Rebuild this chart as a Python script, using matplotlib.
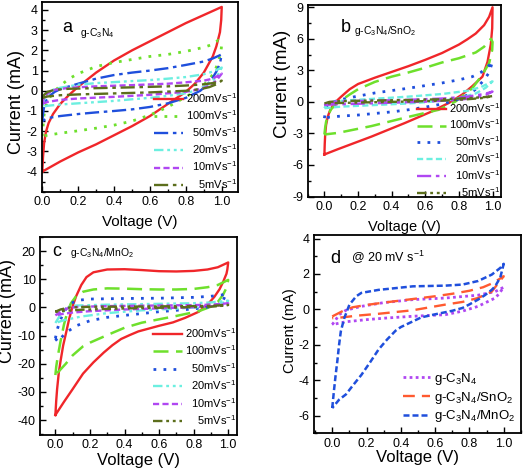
import matplotlib
matplotlib.use("Agg")
import matplotlib.pyplot as plt
from matplotlib.ticker import MultipleLocator, FixedLocator

plt.rcParams['font.family'] = ['Liberation Sans', 'DejaVu Sans']
plt.rcParams['mathtext.fontset'] = 'custom'
plt.rcParams['mathtext.rm'] = 'Liberation Sans'
plt.rcParams['mathtext.it'] = 'Liberation Sans'
plt.rcParams['mathtext.bf'] = 'Liberation Sans:bold'

# ---------------- data (voltage V, current mA), closed CV loops ----------------
rates = ["200", "100", "50", "20", "10", "5"]

# panel a : g-C3N4
a_200 = [(0, -4.0), (0.004, -3.3), (0.01, -2.6), (0.02, -2.05), (0.035, -1.6), (0.06, -1.15), (0.1, -0.65),
         (0.15, -0.2), (0.2, 0.2), (0.25, 0.55), (0.3, 0.9), (0.4, 1.5), (0.5, 2.0), (0.6, 2.45), (0.7, 2.9),
         (0.8, 3.35), (0.9, 3.75), (1.0, 4.15),
         (0.997, 3.5), (0.99, 2.9), (0.97, 2.2), (0.95, 1.7), (0.9, 0.9), (0.85, 0.35), (0.8, -0.05),
         (0.75, -0.35), (0.7, -0.65), (0.6, -1.25), (0.5, -1.75), (0.4, -2.2), (0.3, -2.65), (0.2, -3.05),
         (0.1, -3.5), (0.0, -4.0)]
a_100 = [(0, -2.25), (0.005, -1.7), (0.01, -1.2), (0.02, -0.75), (0.04, -0.35), (0.07, 0.0), (0.1, 0.25),
         (0.15, 0.6), (0.2, 0.85), (0.3, 1.2), (0.4, 1.4), (0.5, 1.55), (0.6, 1.7), (0.7, 1.8), (0.8, 1.95),
         (0.9, 2.15), (0.95, 2.3), (0.98, 2.5), (1.0, 2.3),
         (0.995, 1.9), (0.98, 1.4), (0.96, 0.95), (0.93, 0.55), (0.9, 0.3), (0.85, -0.05), (0.8, -0.3),
         (0.7, -0.8), (0.6, -1.2), (0.5, -1.5), (0.4, -1.7), (0.3, -1.85), (0.2, -1.98), (0.1, -2.1),
         (0.04, -2.18), (0, -2.25)]
a_50 = [(0, -1.5), (0.005, -1.1), (0.01, -0.8), (0.02, -0.5), (0.04, -0.25), (0.07, -0.05), (0.1, 0.08),
        (0.15, 0.22), (0.2, 0.35), (0.3, 0.6), (0.4, 0.78), (0.5, 0.9), (0.6, 1.0), (0.7, 1.12), (0.8, 1.28),
        (0.9, 1.45), (0.95, 1.6), (1.0, 1.8),
        (0.99, 1.35), (0.97, 0.95), (0.95, 0.65), (0.92, 0.3), (0.88, 0.0), (0.8, -0.35), (0.7, -0.62),
        (0.6, -0.8), (0.5, -0.92), (0.4, -1.0), (0.3, -1.07), (0.2, -1.15), (0.1, -1.25), (0.05, -1.32),
        (0.02, -1.4), (0, -1.5)]
a_20 = [(0, -0.8), (0.01, -0.45), (0.03, -0.15), (0.06, 0.05), (0.1, 0.15), (0.2, 0.3), (0.3, 0.38),
        (0.4, 0.43), (0.5, 0.48), (0.6, 0.53), (0.7, 0.6), (0.8, 0.68), (0.9, 0.82), (0.95, 0.95), (1.0, 1.15),
        (0.98, 0.8), (0.95, 0.5), (0.9, 0.2), (0.85, 0.0), (0.8, -0.12), (0.7, -0.25), (0.6, -0.35),
        (0.5, -0.42), (0.4, -0.5), (0.3, -0.56), (0.2, -0.62), (0.1, -0.68), (0.03, -0.74), (0, -0.8)]
a_10 = [(0, -0.65), (0.01, -0.35), (0.03, -0.12), (0.07, 0.05), (0.15, 0.15), (0.3, 0.22), (0.5, 0.28),
        (0.7, 0.35), (0.8, 0.42), (0.9, 0.5), (0.95, 0.6), (1.0, 0.85),
        (0.97, 0.5), (0.93, 0.25), (0.88, 0.08), (0.8, -0.05), (0.6, -0.2), (0.4, -0.3), (0.2, -0.38),
        (0.1, -0.45), (0.03, -0.55), (0, -0.65)]
a_5 = [(0, -0.35), (0.01, -0.2), (0.03, -0.05), (0.07, 0.05), (0.15, 0.1), (0.3, 0.13), (0.5, 0.17),
       (0.7, 0.22), (0.8, 0.26), (0.9, 0.32), (0.95, 0.38), (1.0, 0.5),
       (0.97, 0.32), (0.93, 0.18), (0.88, 0.08), (0.8, 0.0), (0.6, -0.08), (0.4, -0.13), (0.2, -0.18),
       (0.1, -0.22), (0.03, -0.28), (0, -0.35)]

# panel b : g-C3N4/SnO2
b_200 = [(0, -5.0), (0.002, -4.0), (0.005, -3.0), (0.01, -2.2), (0.02, -1.4), (0.035, -0.75), (0.06, -0.1),
         (0.1, 0.5), (0.15, 1.2), (0.2, 1.7), (0.3, 2.3), (0.4, 2.85), (0.5, 3.4), (0.6, 4.0), (0.7, 4.65),
         (0.8, 5.45), (0.85, 5.95), (0.9, 6.5), (0.95, 7.3), (0.98, 8.1), (1.0, 9.0),
         (0.998, 7.0), (0.99, 5.5), (0.97, 3.8), (0.94, 2.4), (0.88, 1.5), (0.82, 0.7), (0.74, -0.1),
         (0.64, -0.9), (0.48, -2.0), (0.28, -3.3), (0.08, -4.5), (0, -5.0)]
b_100 = [(0, -3.1), (0.005, -2.4), (0.01, -1.9), (0.02, -1.3), (0.04, -0.7), (0.07, -0.2), (0.1, 0.15),
         (0.15, 0.7), (0.2, 1.2), (0.3, 1.9), (0.4, 2.4), (0.5, 2.8), (0.6, 3.25), (0.7, 3.75), (0.8, 4.15),
         (0.9, 4.7), (0.95, 5.25), (0.99, 6.0), (1.0, 5.7),
         (0.998, 4.95), (0.98, 3.7), (0.94, 2.6), (0.88, 1.3), (0.78, 0.04), (0.68, -0.75), (0.48, -1.5),
         (0.28, -2.3), (0.08, -2.95), (0, -3.1)]
b_50 = [(0, -1.55), (0.005, -1.0), (0.015, -0.5), (0.04, -0.1), (0.08, 0.15), (0.15, 0.4), (0.3, 0.85),
        (0.5, 1.3), (0.7, 1.8), (0.8, 2.1), (0.88, 2.4), (0.93, 2.8), (0.97, 3.3), (1.0, 3.85),
        (0.98, 2.8), (0.95, 2.1), (0.9, 1.2), (0.85, 0.65), (0.78, 0.15), (0.7, -0.2), (0.6, -0.5),
        (0.5, -0.75), (0.4, -0.95), (0.3, -1.1), (0.2, -1.25), (0.1, -1.35), (0.03, -1.45), (0, -1.55)]
b_20 = [(0, -0.6), (0.01, -0.3), (0.04, -0.05), (0.1, 0.1), (0.3, 0.3), (0.5, 0.5), (0.7, 0.75),
        (0.85, 1.05), (0.93, 1.4), (1.0, 1.95),
        (0.96, 1.35), (0.9, 0.8), (0.8, 0.35), (0.7, 0.1), (0.5, -0.15), (0.3, -0.3), (0.1, -0.45), (0, -0.6)]
b_10 = [(0, -0.3), (0.02, -0.1), (0.08, 0.05), (0.3, 0.12), (0.5, 0.2), (0.7, 0.32), (0.85, 0.5),
        (0.95, 0.75), (1.0, 0.98),
        (0.95, 0.6), (0.88, 0.35), (0.8, 0.2), (0.6, 0.02), (0.4, -0.08), (0.2, -0.18), (0.05, -0.25), (0, -0.3)]
b_5 = [(0, -0.15), (0.03, 0.0), (0.1, 0.08), (0.3, 0.13), (0.5, 0.18), (0.7, 0.25), (0.85, 0.35),
       (0.95, 0.45), (1.0, 0.55),
       (0.95, 0.38), (0.85, 0.25), (0.7, 0.12), (0.5, 0.03), (0.3, -0.03), (0.1, -0.1), (0, -0.15)]

# panel c : g-C3N4/MnO2
c_200 = [(0, -38.2), (0.005, -33), (0.01, -29), (0.02, -23), (0.03, -19), (0.045, -13.5), (0.06, -9.5),
         (0.08, -4), (0.1, 0.5), (0.12, 4), (0.15, 8), (0.18, 10.8), (0.22, 12.5), (0.3, 13.5), (0.4, 13.6),
         (0.5, 13.3), (0.6, 12.9), (0.7, 12.8), (0.8, 13.0), (0.88, 13.5), (0.94, 14.3), (1.0, 16.0),
         (0.995, 13.5), (0.99, 12.0), (0.97, 9), (0.95, 6.5), (0.92, 3.8), (0.88, 1.0), (0.83, -1.5),
         (0.75, -3.7), (0.68, -5.3), (0.6, -6.5), (0.54, -7.5), (0.48, -8.5), (0.43, -9.8), (0.38, -11.2),
         (0.33, -13.4), (0.28, -16), (0.22, -19.5), (0.16, -23.5), (0.1, -29), (0.05, -33.5), (0, -38.2)]
c_100 = [(0, -24), (0.005, -21), (0.015, -17), (0.03, -12), (0.05, -6), (0.07, -1.5), (0.09, 1.5),
         (0.12, 4), (0.16, 5.6), (0.22, 6.4), (0.3, 6.8), (0.4, 6.7), (0.5, 6.5), (0.6, 6.4), (0.7, 6.4),
         (0.8, 6.6), (0.88, 7.2), (0.94, 8.0), (1.0, 9.8),
         (0.99, 7.0), (0.97, 4.5), (0.94, 2.0), (0.9, 0.3), (0.83, -1.3), (0.7, -3.0), (0.6, -4.2),
         (0.5, -5.4), (0.4, -7.2), (0.3, -9.8), (0.2, -12.5), (0.16, -13.8), (0.1, -17), (0.06, -20),
         (0.03, -22), (0, -24)]
c_50 = [(0, -11), (0.01, -8), (0.025, -5), (0.05, -1.5), (0.08, 1.0), (0.12, 2.5), (0.2, 3.0), (0.4, 3.2),
        (0.6, 3.3), (0.8, 3.6), (0.9, 4.0), (0.96, 4.4), (0.99, 5.0),
        (0.97, 2.5), (0.94, 1.0), (0.9, 0.3), (0.8, -0.5), (0.6, -1.5), (0.4, -2.8), (0.3, -3.5),
        (0.2, -4.7), (0.12, -6.5), (0.06, -9.0), (0.03, -11), (0.015, -12.2), (0, -11)]
c_20 = [(0, -5.5), (0.02, -3.5), (0.05, -1.2), (0.08, 0.2), (0.12, 0.7), (0.3, 1.0), (0.6, 1.3), (0.8, 1.5),
        (0.9, 1.8), (1.0, 2.4),
        (0.95, 1.2), (0.9, 0.6), (0.8, 0.0), (0.7, -0.4), (0.5, -1.0), (0.3, -2.0), (0.15, -3.2), (0.05, -4.5),
        (0, -5.5)]
c_10 = [(0, -2.8), (0.03, -1.5), (0.07, -0.3), (0.12, 0.2), (0.3, 0.5), (0.6, 0.7), (0.8, 0.85), (0.9, 1.0),
        (1.0, 1.5),
        (0.95, 0.8), (0.9, 0.4), (0.8, 0.1), (0.6, -0.3), (0.4, -0.7), (0.2, -1.3), (0.1, -1.8), (0.03, -2.4),
        (0, -2.8)]
c_5 = [(0, -1.5), (0.03, -0.7), (0.08, 0.0), (0.2, 0.25), (0.5, 0.35), (0.8, 0.5), (0.9, 0.6), (1.0, 0.9),
       (0.95, 0.5), (0.9, 0.3), (0.7, 0.0), (0.5, -0.2), (0.3, -0.5), (0.15, -0.8), (0.05, -1.2), (0, -1.5)]

# panel d : comparison at 20 mV/s
d_names = ["g-C$_3$N$_4$", "g-C$_3$N$_4$/SnO$_2$", "g-C$_3$N$_4$/MnO$_2$"]
d_c3n4 = [(0, -0.86), (0.02, -0.6), (0.04, -0.3), (0.08, -0.05), (0.17, 0.17), (0.3, 0.38), (0.47, 0.55),
          (0.66, 0.64), (0.85, 0.8), (0.95, 1.0), (1.0, 1.25),
          (0.97, 0.85), (0.95, 0.64), (0.85, 0.17), (0.76, -0.1), (0.66, -0.3), (0.47, -0.39), (0.3, -0.5),
          (0.2, -0.58), (0.08, -0.7), (0.03, -0.8), (0, -0.86)]
d_sno2 = [(0, -0.4), (0.03, -0.25), (0.07, -0.05), (0.12, 0.12), (0.2, 0.25), (0.3, 0.38), (0.4, 0.5),
          (0.5, 0.62), (0.6, 0.74), (0.7, 0.88), (0.8, 1.05), (0.88, 1.25), (0.94, 1.5), (1.0, 1.87),
          (0.97, 1.5), (0.93, 1.0), (0.85, 0.64), (0.76, 0.42), (0.66, 0.27), (0.47, -0.05), (0.27, -0.25),
          (0.15, -0.35), (0.06, -0.45), (0, -0.5)]
d_mno2 = [(0, -5.57), (0.01, -4.6), (0.02, -3.7), (0.03, -2.9), (0.04, -2.0), (0.05, -1.25), (0.07, -0.5),
          (0.1, 0.26), (0.14, 0.74), (0.17, 0.93), (0.27, 1.1), (0.47, 1.3), (0.66, 1.34), (0.76, 1.4),
          (0.85, 1.6), (0.93, 1.96), (0.98, 2.34), (1.0, 2.57),
          (0.98, 1.8), (0.95, 1.3), (0.93, 1.1), (0.89, 0.8), (0.85, 0.55), (0.8, 0.28), (0.76, 0.08),
          (0.7, -0.08), (0.6, -0.28), (0.52, -0.45), (0.45, -0.77), (0.4, -1.0), (0.37, -1.2), (0.32, -1.7),
          (0.27, -2.27), (0.22, -3.0), (0.17, -3.7), (0.12, -4.3), (0.08, -4.8), (0.04, -5.1), (0, -5.57)]

# ---------------- styles ----------------
RED = '#f0262a'
GREEN = '#6ee02c'
BLUE = '#1f4fdc'
CYAN = '#6cefe0'
PURPLE = '#b047f2'
OLIVE = '#5c6e1c'
ORANGE = '#ff5a30'

dot = (0, (1, 2.6))
dash_long = (0, (6, 3))
dashdot = (0, (6, 2, 1.5, 2))
dashdotdot = (0, (4, 1.6, 1.2, 1.6, 1.2, 1.6))
shortdash = (0, (2.6, 1.4))

fig = plt.figure(figsize=(5.24, 4.69), dpi=100)

def style_axes(ax, xlim, ylim, yticks, ymin, xfs, xpad, yfs, ypos):
    ax.set_xlim(*xlim)
    ax.set_ylim(*ylim)
    ax.xaxis.set_major_locator(MultipleLocator(0.2))
    ax.xaxis.set_minor_locator(MultipleLocator(0.1))
    ax.yaxis.set_major_locator(FixedLocator(yticks))
    ax.yaxis.set_minor_locator(MultipleLocator(ymin))
    ax.tick_params(which='both', direction='in', top=False, right=False, labelsize=9, width=1.0)
    ax.tick_params(which='major', length=4, pad=3)
    ax.tick_params(which='minor', length=2)
    for s in ax.spines.values():
        s.set_linewidth(1.3)
    ax.set_xlabel('Voltage (V)', fontsize=xfs, labelpad=xpad)
    ax.set_ylabel('Current (mA)', fontsize=yfs, labelpad=1, y=ypos)
    ax.xaxis.set_major_formatter(plt.FuncFormatter(lambda v, p: f'{v:.1f}'))
    ax.yaxis.set_major_formatter(plt.FuncFormatter(lambda v, p: f'{v:.0f}'))

def plot_loop(ax, pts, color, ls, lw, label):
    v, i = zip(*pts)
    ax.plot(v, i, color=color, ls=ls, lw=lw, label=label)

labels = ["200mVs$^{-1}$", "100mVs$^{-1}$", "  50mVs$^{-1}$", "  20mVs$^{-1}$", "  10mVs$^{-1}$",
          "    5mVs$^{-1}$"]
leg_kw = dict(loc='upper right', frameon=False, fontsize=8, handlelength=2.6, handletextpad=0.3,
              borderpad=0, borderaxespad=0)

# ---- panel a
axa = fig.add_axes([0.080, 0.591, 0.374, 0.405])
styles_a = [(RED, '-', 1.7), (GREEN, dot, 2.0), (BLUE, dashdot, 1.7), (CYAN, dashdotdot, 1.7),
            (PURPLE, shortdash, 1.7), (OLIVE, dashdot, 1.7)]
for pts, (c, ls, lw), lab in zip([a_200, a_100, a_50, a_20, a_10, a_5], styles_a, labels):
    plot_loop(axa, pts, c, ls, lw, lab)
style_axes(axa, (-0.002, 1.09), (-5, 4.4), list(range(-4, 5)), 0.5, 11, 5, 13, 0.474)
axa.text(0.105, 0.84, 'a', transform=axa.transAxes, fontsize=13)
axa.text(0.194, 0.82, 'g-C$_3$N$_4$', transform=axa.transAxes, fontsize=7.5)
axa.legend(bbox_to_anchor=(1.0, 0.53), labelspacing=0.3, **leg_kw)

# ---- panel b
axb = fig.add_axes([0.587, 0.581, 0.369, 0.408])
styles_b = [(RED, '-', 1.7), (GREEN, dash_long, 1.8), (BLUE, dot, 2.0), (CYAN, shortdash, 1.7),
            (PURPLE, dashdot, 1.7), (OLIVE, dashdotdot, 1.7)]
for pts, (c, ls, lw), lab in zip([b_200, b_100, b_50, b_20, b_10, b_5], styles_b, labels):
    plot_loop(axb, pts, c, ls, lw, lab)
style_axes(axb, (-0.1, 1.05), (-9, 9.2), [-9, -6, -3, 0, 3, 6, 9], 1.5, 10.5, 5, 13.5, 0.588)
axb.text(0.172, 0.86, 'b', transform=axb.transAxes, fontsize=13)
axb.text(0.24, 0.85, 'g-C$_3$N$_4$/SnO$_2$', transform=axb.transAxes, fontsize=7.5)
axb.legend(bbox_to_anchor=(1.0, 0.50), labelspacing=0.27, **leg_kw)

# ---- panel c
axc = fig.add_axes([0.076, 0.0725, 0.376, 0.4225])
styles_c = [(RED, '-', 1.7), (GREEN, dash_long, 1.8), (BLUE, dot, 2.0), (CYAN, dashdotdot, 1.7),
            (PURPLE, shortdash, 1.7), (OLIVE, dashdotdot, 1.7)]
for pts, (c, ls, lw), lab in zip([c_200, c_100, c_50, c_20, c_10, c_5], styles_c, labels):
    plot_loop(axc, pts, c, ls, lw, lab)
style_axes(axc, (-0.09, 1.05), (-45.3, 25.1), [-40, -30, -20, -10, 0, 10, 20], 5, 12, 1, 13, 0.625)
axc.text(0.065, 0.905, 'c', transform=axc.transAxes, fontsize=13)
axc.text(0.152, 0.905, 'g-C$_3$N$_4$/MnO$_2$', transform=axc.transAxes, fontsize=7.5)
axc.legend(bbox_to_anchor=(1.0, 0.55), labelspacing=0.33, **leg_kw)

# ---- panel d
axd = fig.add_axes([0.599, 0.076, 0.395, 0.423])
plot_loop(axd, d_c3n4, PURPLE, (0, (1, 1.2)), 2.0, d_names[0])
plot_loop(axd, d_sno2, ORANGE, (0, (5, 3)), 1.7, d_names[1])
plot_loop(axd, d_mno2, BLUE, (0, (2.4, 1.2)), 1.8, d_names[2])
style_axes(axd, (-0.107, 1.1), (-7, 4.2), [-6, -4, -2, 0, 2, 4], 1, 12, 0, 10.5, 0.516)
axd.text(0.079, 0.86, 'd', transform=axd.transAxes, fontsize=13)
axd.text(0.18, 0.865, '@ 20 mV s$^{-1}$', transform=axd.transAxes, fontsize=9)
axd.legend(loc='upper right', bbox_to_anchor=(0.975, 0.315), frameon=False, fontsize=9.5, handlelength=2.0,
           handletextpad=0.35, labelspacing=0.2, borderpad=0, borderaxespad=0)

fig.savefig('out.png', dpi=100)
